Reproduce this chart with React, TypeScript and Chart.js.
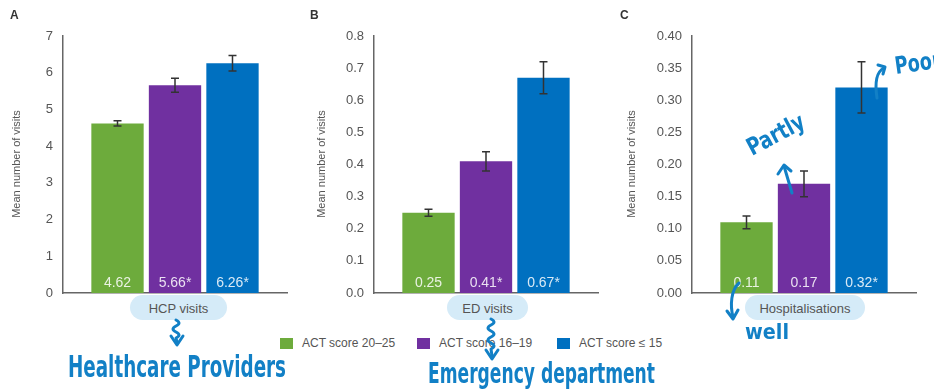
import React, { useEffect, useRef } from "react";
import { Chart, registerables } from "chart.js";

Chart.register(...registerables);

// ---- data ----
const categories = ["HCP visits", "ED visits", "Hospitalisations"];
const panelLetters = ["A", "B", "C"];
const seriesLabels = ["ACT score 20–25", "ACT score 16–19", "ACT score ≤ 15"];
const seriesColors = ["#6dab3c", "#7030a0", "#0070c0"];

const hcpValues = [4.62, 5.66, 6.26];
const hcpErrors = [0.07, 0.19, 0.21];
const hcpValueLabels = ["4.62", "5.66*", "6.26*"];

const edValues = [0.25, 0.41, 0.67];
const edErrors = [0.011, 0.03, 0.05];
const edValueLabels = ["0.25", "0.41*", "0.67*"];

const hospValues = [0.11, 0.17, 0.32];
const hospErrors = [0.01, 0.02, 0.04];
const hospValueLabels = ["0.11", "0.17", "0.32*"];

const yMaxes = [7, 0.8, 0.4];
const ySteps = [1, 0.1, 0.05];
const yDecimals = [0, 1, 2];
const yTitle = "Mean number of visits";

// ---- layout ----
const FONT = "'Liberation Sans', Arial, sans-serif";
const HAND = "'DejaVu Sans Condensed', 'DejaVu Sans', sans-serif";
const INK = "#1280c6";

const panels = [
  { left: 0, width: 300, axisX: 63, right: 287, titleX: 17, pill: { left: 130, width: 97 } },
  { left: 300, width: 310, axisX: 74, right: 298, titleX: 22, pill: { left: 447, width: 81 } },
  { left: 610, width: 324, axisX: 82, right: 306, titleX: 22, pill: { left: 745, width: 120 } },
];
const PANEL_H = 330;
const AREA_TOP = 36;
const AREA_BOTTOM = 293;

const panelData = [
  { values: hcpValues, errors: hcpErrors, labels: hcpValueLabels },
  { values: edValues, errors: edErrors, labels: edValueLabels },
  { values: hospValues, errors: hospErrors, labels: hospValueLabels },
];

const decorPlugin = {
  id: "decor",
  afterDatasetsDraw(chart: any, _args: any, opts: any) {
    const ctx = chart.ctx;
    const ys = chart.scales.y;
    ctx.save();
    chart.data.datasets.forEach((ds: any, i: number) => {
      const meta = chart.getDatasetMeta(i);
      const bar = meta.data[0];
      if (!bar) return;
      const x = bar.x;
      // value label
      ctx.fillStyle = "rgba(255,255,255,0.85)";
      ctx.font = `14px ${FONT}`;
      ctx.textAlign = "center";
      ctx.textBaseline = "middle";
      ctx.fillText(opts.valueLabels[i], x, chart.chartArea.bottom - 10);
      // error bar
      const v = ds.data[0];
      const e = opts.errors[i];
      const yTop = ys.getPixelForValue(v + e);
      const yBot = ys.getPixelForValue(v - e);
      ctx.strokeStyle = "#333";
      ctx.lineWidth = 1.5;
      ctx.beginPath();
      ctx.moveTo(x, yTop);
      ctx.lineTo(x, yBot);
      ctx.moveTo(x - 4, yTop);
      ctx.lineTo(x + 4, yTop);
      ctx.moveTo(x - 4, yBot);
      ctx.lineTo(x + 4, yBot);
      ctx.stroke();
    });
    // panel letter
    ctx.fillStyle = "#333";
    ctx.font = `bold 12px ${FONT}`;
    ctx.textAlign = "left";
    ctx.textBaseline = "middle";
    ctx.fillText(opts.letter, 10, 16);
    // y title
    ctx.translate(opts.titleX, 164);
    ctx.rotate(-Math.PI / 2);
    ctx.fillStyle = "#555";
    ctx.font = `11px ${FONT}`;
    ctx.textAlign = "center";
    ctx.fillText(yTitle, 0, 0);
    ctx.restore();
  },
};

function Panel({ idx }: { idx: number }) {
  const ref = useRef<HTMLCanvasElement>(null);
  useEffect(() => {
    const p = panels[idx];
    const d = panelData[idx];
    const chart = new Chart(ref.current as HTMLCanvasElement, {
      type: "bar",
      data: {
        labels: [categories[idx]],
        datasets: seriesLabels.map((lab, i) => ({
          label: lab,
          data: [d.values[i]],
          backgroundColor: seriesColors[i],
          borderWidth: 0,
          categoryPercentage: 0.77,
          barPercentage: 0.91,
        })),
      },
      options: {
        responsive: false,
        animation: false,
        layout: {
          padding: {
            left: 0,
            top: AREA_TOP,
            right: p.width - p.right,
            bottom: PANEL_H - AREA_BOTTOM,
          },
        },
        plugins: {
          legend: { display: false },
          tooltip: { enabled: false },
          decor: {
            errors: d.errors,
            valueLabels: d.labels,
            letter: panelLetters[idx],
            titleX: p.titleX,
          },
        } as any,
        scales: {
          x: {
            grid: { display: false },
            ticks: { display: false },
            border: { display: true, color: "#666", width: 1.5 },
            afterFit: (s: any) => {
              s.height = 0;
            },
          },
          y: {
            min: 0,
            max: yMaxes[idx],
            grid: { display: false, drawTicks: false },
            border: { display: true, color: "#666", width: 1.5 },
            ticks: {
              stepSize: ySteps[idx],
              padding: 10,
              color: "#555",
              font: { size: 13, family: FONT },
              callback: (v: any) => Number(v).toFixed(yDecimals[idx]),
            },
            afterFit: (s: any) => {
              s.width = p.axisX;
            },
          },
        },
      },
      plugins: [decorPlugin],
    });
    return () => chart.destroy();
  }, [idx]);
  const p = panels[idx];
  return (
    <canvas
      ref={ref}
      width={p.width}
      height={PANEL_H}
      style={{ position: "absolute", left: p.left, top: 0, width: p.width, height: PANEL_H }}
    />
  );
}

function Annotations() {
  const stroke = { stroke: INK, strokeWidth: 3, fill: "none", strokeLinecap: "round" as const, strokeLinejoin: "round" as const };
  const txt = { fill: INK, fontFamily: HAND, fontWeight: 700 as const };
  return (
    <svg width={934} height={391} style={{ position: "absolute", left: 0, top: 0, overflow: "hidden" }}>
      {/* HCP squiggle */}
      <path d="M176,320 q6,3 0,6 q-6,3 0,6 q6,3 0,6 L177,342" {...stroke} />
      <path d="M171,336 L177,345 L183,336" {...stroke} />
      <text x={68} y={377} fontSize={31} textLength={218} lengthAdjust="spacingAndGlyphs" {...txt}>
        Healthcare Providers
      </text>
      {/* ED squiggle */}
      <path d="M491,319 q6,3 0,6 q-6,3 0,6 q6,3 0,6 q-6,3 0,6 q6,3 0,6 L492,356" {...stroke} />
      <path d="M486,350 L492,359 L498,350" {...stroke} />
      <text x={428} y={383} fontSize={29} textLength={227} lengthAdjust="spacingAndGlyphs" {...txt}>
        Emergency department
      </text>
      {/* well */}
      <path d="M739,283 C731,290 730,305 733,317" {...stroke} />
      <path d="M727,311 L733,319 L738,310" {...stroke} />
      <text x={745} y={339} fontSize={22} textLength={44} lengthAdjust="spacingAndGlyphs" {...txt}>
        well
      </text>
      {/* Partly */}
      <path d="M792,193 L784,166" {...stroke} />
      <path d="M778,174 L784,165 L791,171" {...stroke} />
      <text
        x={0}
        y={0}
        fontSize={24}
        textLength={62}
        lengthAdjust="spacingAndGlyphs"
        transform="translate(752,156) rotate(-28)"
        {...txt}
      >
        Partly
      </text>
      {/* Poor */}
      <path d="M877,98 C875,85 876,72 884,68" {...stroke} />
      <path d="M878,65 L885,67 L883,74" {...stroke} />
      <text
        x={0}
        y={0}
        fontSize={24}
        textLength={46}
        lengthAdjust="spacingAndGlyphs"
        transform="translate(896,74) rotate(-8)"
        {...txt}
      >
        Poor
      </text>
    </svg>
  );
}

const legendX = [280, 417, 557];

export default function App() {
  useEffect(() => {
    document.body.style.margin = "0";
  }, []);
  return (
    <div style={{ position: "fixed", left: 0, top: 0, width: 934, height: 391, background: "#fff", overflow: "hidden" }}>
      {panels.map((p, i) => (
        <div
          key={"pill" + i}
          style={{
            position: "absolute",
            left: p.pill.left,
            top: 295,
            width: p.pill.width,
            height: 25,
            borderRadius: 13,
            background: "#d5ebf8",
            color: "#555",
            font: `13px ${FONT}`,
            display: "flex",
            alignItems: "center",
            justifyContent: "center",
            paddingTop: 1,
            boxSizing: "border-box",
          }}
        >
          {categories[i]}
        </div>
      ))}
      {panels.map((_, i) => (
        <Panel key={i} idx={i} />
      ))}
      {seriesLabels.map((lab, i) => (
        <div
          key={"leg" + i}
          style={{ position: "absolute", left: legendX[i], top: 336, height: 14, display: "flex", alignItems: "center", whiteSpace: "nowrap" }}
        >
          <span style={{ display: "inline-block", width: 13, height: 11, background: seriesColors[i], marginRight: 9 }} />
          <span style={{ font: `12px ${FONT}`, color: "#555" }}>{lab}</span>
        </div>
      ))}
      <Annotations />
    </div>
  );
}
